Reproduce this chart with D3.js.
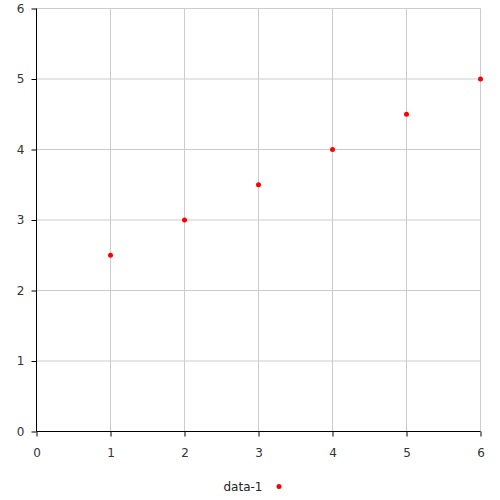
<!DOCTYPE html>
<html>
<head>
<meta charset="utf-8">
<script src="https://cdn.jsdelivr.net/npm/d3@7"></script>
<style>
  body { margin: 0; background: #fff; }
  text { font-family: "DejaVu Sans", sans-serif; }
</style>
</head>
<body>
<svg width="500" height="500"></svg>
<script>
var xValues = [1, 2, 3, 4, 5, 6];
var yValues = [2.5, 3, 3.5, 4, 4.5, 5];
var tickValues = [0, 1, 2, 3, 4, 5, 6];
var seriesName = "data-1";

var svg = d3.select("svg");
var plotLeft = 36.5, plotRight = 480.5, plotTop = 8.5, plotBottom = 431.5;

var x = d3.scaleLinear().domain([0, 6]).range([plotLeft, plotRight]);
var y = d3.scaleLinear().domain([0, 6]).range([plotBottom, plotTop]);

// grid
svg.append("g").selectAll("line").data(tickValues.slice(1)).enter().append("line")
  .attr("x1", function(d) { return x(d); }).attr("x2", function(d) { return x(d); })
  .attr("y1", plotTop).attr("y2", plotBottom)
  .attr("stroke", "#cccccc");
svg.append("g").selectAll("line").data(tickValues.slice(1)).enter().append("line")
  .attr("y1", function(d) { return y(d); }).attr("y2", function(d) { return y(d); })
  .attr("x1", plotLeft).attr("x2", plotRight)
  .attr("stroke", "#cccccc");

var xAxis = d3.axisBottom(x).tickValues(tickValues).tickSize(5).tickPadding(12).tickFormat(d3.format("d"));
var yAxis = d3.axisLeft(y).tickValues(tickValues).tickSize(5).tickPadding(7).tickFormat(d3.format("d"));

var gx = svg.append("g").attr("transform", "translate(0," + plotBottom + ")").call(xAxis);
var gy = svg.append("g").attr("transform", "translate(" + plotLeft + ",0)").call(yAxis);
gx.select(".domain").attr("d", "M" + plotLeft + ",0H" + plotRight);
gy.select(".domain").attr("d", "M0," + plotTop + "V" + plotBottom);
[gx, gy].forEach(function(g) {
  g.select(".domain").attr("stroke", "#000");
  g.selectAll(".tick line").attr("stroke", "#000");
  g.selectAll(".tick text").attr("fill", "#333").style("font-size", "12px");
});

svg.append("g").selectAll("circle").data(xValues).enter().append("circle")
  .attr("cx", function(d) { return x(d); })
  .attr("cy", function(d, i) { return y(yValues[i]); })
  .attr("r", 2.5)
  .attr("fill", "#ff0000");

// legend
svg.append("text").attr("x", 243).attr("y", 491).attr("text-anchor", "middle")
  .style("font-size", "12px").attr("fill", "#222").text(seriesName);
svg.append("circle").attr("cx", 279).attr("cy", 486.5).attr("r", 2.5).attr("fill", "#ff0000");
</script>
</body>
</html>
